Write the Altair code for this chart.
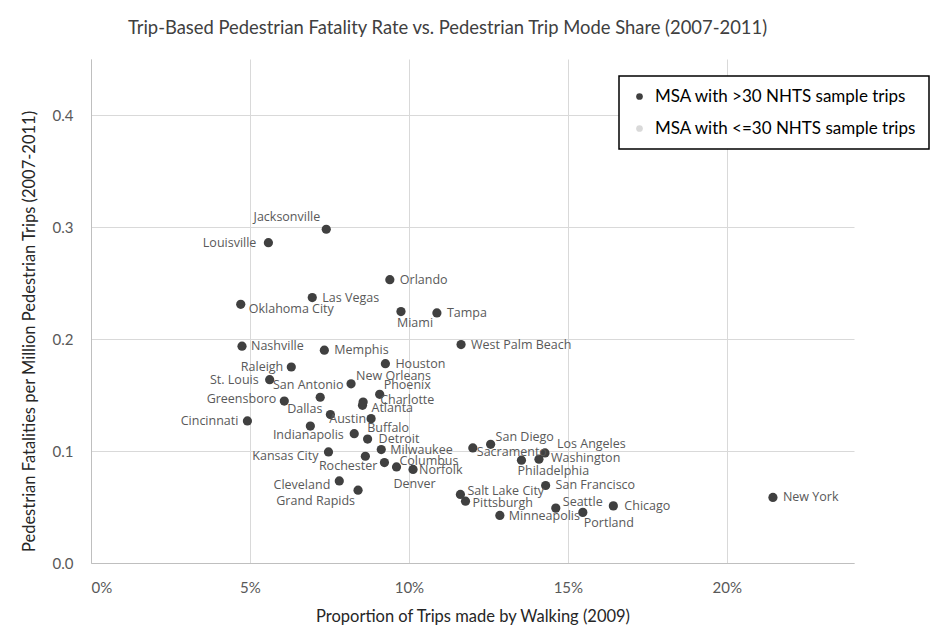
import altair as alt
import pandas as pd

cities = ["Jacksonville", "Louisville", "Orlando", "Las Vegas", "Oklahoma City", "Miami", "Tampa",
          "West Palm Beach", "Nashville", "Memphis", "Houston", "Raleigh", "St. Louis", "New Orleans",
          "Phoenix", "San Antonio", "Greensboro", "Charlotte", "Atlanta", "Dallas", "Cincinnati", "Austin",
          "Indianapolis", "Buffalo", "Detroit", "Milwaukee", "Kansas City", "Rochester", "Columbus",
          "Denver", "Norfolk", "Cleveland", "Grand Rapids", "Sacramento", "San Diego", "Philadelphia",
          "Washington", "Los Angeles", "San Francisco", "Salt Lake City", "Pittsburgh", "Minneapolis",
          "Seattle", "Portland", "Chicago", "New York"]

walk_share = [0.0740, 0.0558, 0.0940, 0.0696, 0.0471, 0.0975, 0.1088,
              0.1164, 0.0475, 0.0734, 0.0926, 0.0630, 0.0562, 0.0818,
              0.0908, 0.0721, 0.0608, 0.0856, 0.0854, 0.0753, 0.0492, 0.0881,
              0.0690, 0.0828, 0.0870, 0.0913, 0.0747, 0.0863, 0.0923,
              0.0961, 0.1013, 0.0781, 0.0840, 0.1201, 0.1257, 0.1354,
              0.1409, 0.1428, 0.1430, 0.1162, 0.1178, 0.1286,
              0.1462, 0.1547, 0.1643, 0.2145]

fatality_rate = [0.298, 0.286, 0.253, 0.237, 0.231, 0.2245, 0.2233,
                 0.195, 0.1936, 0.190, 0.178, 0.175, 0.1637, 0.160,
                 0.1506, 0.148, 0.1446, 0.1437, 0.1408, 0.1325, 0.1268, 0.1289,
                 0.1223, 0.1155, 0.1107, 0.1013, 0.0992, 0.0953, 0.0897,
                 0.0858, 0.0835, 0.0733, 0.0650, 0.1027, 0.1060, 0.0918,
                 0.0927, 0.0983, 0.0692, 0.0612, 0.0552, 0.0425,
                 0.0490, 0.0452, 0.0510, 0.0585]

groups = ["MSA with >30 NHTS sample trips", "MSA with <=30 NHTS sample trips"]
group_colors = ["#404040", "#d9d9d9"]

# label placement (text alignment, pixel offsets) - styling only
label_place = {
    "Jacksonville": ("right", -6, -12), "Louisville": ("right", -12, 0), "Orlando": ("left", 10, 0),
    "Las Vegas": ("left", 10, 0), "Oklahoma City": ("left", 8, 5), "Miami": ("left", -4, 11),
    "Tampa": ("left", 10, 0), "West Palm Beach": ("left", 10, 0), "Nashville": ("left", 9, 0),
    "Memphis": ("left", 10, 0), "Houston": ("left", 10, 0), "Raleigh": ("right", -8, 0),
    "St. Louis": ("right", -11, 0), "New Orleans": ("left", 5, -8), "Phoenix": ("left", 4, -9),
    "San Antonio": ("center", -12, -12), "Greensboro": ("right", -8, -2), "Charlotte": ("left", 17, -2),
    "Atlanta": ("left", 9, 3), "Dallas": ("right", -8, -6), "Cincinnati": ("right", -9, 0),
    "Austin": ("right", -5, 0), "Indianapolis": ("center", -2, 9), "Buffalo": ("left", 13, -6),
    "Detroit": ("left", 11, 0), "Milwaukee": ("left", 9, 0), "Kansas City": ("right", -10, 4),
    "Rochester": ("right", 12, 10), "Columbus": ("left", 15, -2), "Denver": ("left", -3, 17),
    "Norfolk": ("left", 6, 1), "Cleveland": ("right", -9, 4), "Grand Rapids": ("right", -3, 11),
    "Sacramento": ("left", 4, 4), "San Diego": ("left", 5, -7), "Philadelphia": ("left", -4, 11),
    "Washington": ("left", 12, -1), "Los Angeles": ("left", 12, -9), "San Francisco": ("left", 10, 0),
    "Salt Lake City": ("left", 7, -3), "Pittsburgh": ("left", 7, 2), "Minneapolis": ("left", 9, 1),
    "Seattle": ("left", 7, -6), "Portland": ("left", 1, 11), "Chicago": ("left", 11, 0),
    "New York": ("left", 10, 0),
}

df = pd.DataFrame({
    "city": cities,
    "walk": walk_share,
    "rate": fatality_rate,
    "group": [groups[0]] * len(cities),
})

FONT = "Lato"
LABEL_FONT = "Open Sans"

x_enc = alt.X("walk:Q",
              scale=alt.Scale(domain=[0, 0.24], nice=False, zero=True),
              axis=alt.Axis(values=[0, 0.05, 0.1, 0.15, 0.2], format=".0%",
                            title="Proportion of Trips made by Walking (2009)",
                            labelPadding=17, titlePadding=13, grid=True))
y_enc = alt.Y("rate:Q",
              scale=alt.Scale(domain=[0, 0.45], nice=False),
              axis=alt.Axis(values=[0, 0.1, 0.2, 0.3, 0.4], format=".1f",
                            title="Pedestrian Fatalities per Million Pedestrian Trips (2007-2011)",
                            titleX=-62, titleY=272, titleAngle=270, titleAlign="center",
                            titleBaseline="middle", labelPadding=18, grid=True))

base = alt.Chart(df)

points = base.mark_circle(size=85, opacity=1).encode(
    x=x_enc, y=y_enc,
    color=alt.Color("group:N",
                    scale=alt.Scale(domain=groups, range=group_colors),
                    legend=alt.Legend(title=None, orient="none", legendX=528, legendY=17,
                                      symbolType="circle", symbolSize=45, symbolStrokeWidth=0,
                                      labelFontSize=17, labelFont=FONT, labelColor="#000000",
                                      labelLimit=0, rowPadding=14, labelOffset=7, padding=12,
                                      strokeColor="#000000", fillColor="#ffffff")),
)

text_layers = []
for c in cities:
    a, dx, dy = label_place[c]
    text_layers.append(
        base.transform_filter(alt.datum.city == c).mark_text(
            align=a, baseline="middle", dx=dx, dy=dy,
            font=LABEL_FONT, fontSize=12.5, color="#595959"
        ).encode(
            x=alt.X("walk:Q"), y=alt.Y("rate:Q"),
            text="city:N",
        )
    )

chart = alt.layer(points, *text_layers).properties(
    width=763, height=504,
    title=alt.Title("Trip-Based Pedestrian Fatality Rate vs. Pedestrian Trip Mode Share (2007-2011)",
                    font=FONT, fontSize=18.4, fontWeight="normal", color="#404040",
                    anchor="middle", offset=22, dx=-25),
    autosize=alt.AutoSizeParams(type="none"),
    padding={"left": 83, "top": 51, "right": 88, "bottom": 62},
).configure_view(stroke=None).configure_axis(
    gridColor="#d9d9d9", gridWidth=1, domainColor="#bfbfbf", domainWidth=1, ticks=False,
    labelFont=FONT, titleFont=FONT, labelColor="#595959", titleColor="#262626",
    labelFontSize=15, titleFontSize=16.5, titleFontWeight="normal",
).configure_legend(strokeWidth=1.5)

chart.save("out.html", embed_options={"renderer": "svg", "actions": False})
